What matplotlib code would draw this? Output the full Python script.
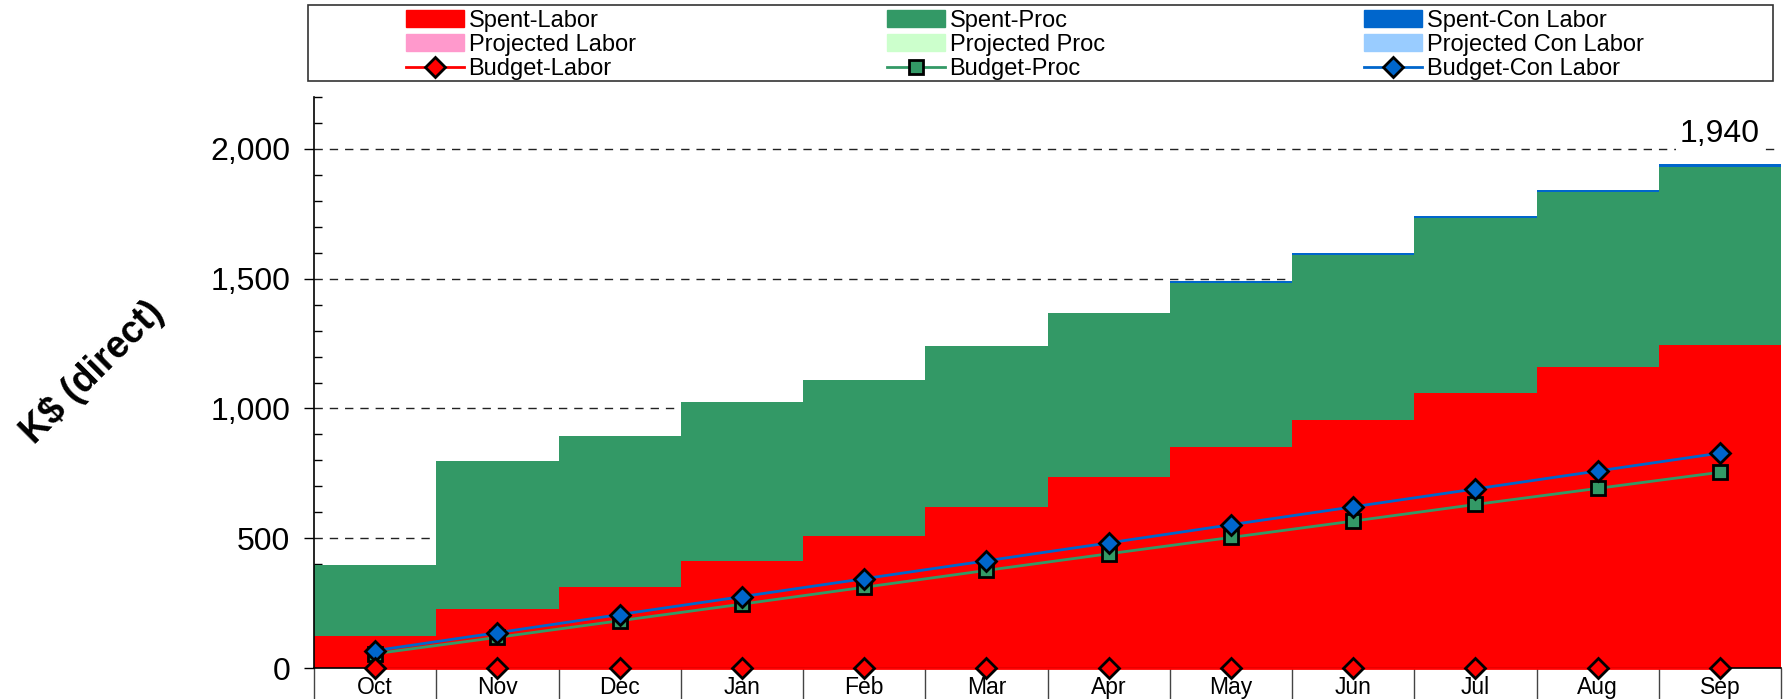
import numpy as np
import matplotlib
matplotlib.use('Agg')
import matplotlib.pyplot as plt
from matplotlib.patches import Patch, Rectangle
from matplotlib.lines import Line2D
from matplotlib.ticker import MultipleLocator, FuncFormatter

plt.rcParams['font.family'] = ['Liberation Sans', 'DejaVu Sans']

# ---------------- data ----------------
months = ['Oct', 'Nov', 'Dec', 'Jan', 'Feb', 'Mar', 'Apr', 'May', 'Jun', 'Jul', 'Aug', 'Sep']
spent_labor = [123, 227, 313, 412, 509, 622, 737, 850, 956, 1061, 1158, 1246]
spent_proc = [275, 571, 581, 614, 601, 620, 629, 633, 637, 672, 675, 686]
spent_con_labor = [0, 0, 0, 0, 0, 0, 0, 7, 7, 7, 7, 8]
projected_labor = []
projected_proc = []
projected_con_labor = []
budget_labor = [0, 0, 0, 0, 0, 0, 0, 0, 0, 0, 0, 0]
budget_proc = [55, 118, 182, 246, 311, 376, 440, 503, 566, 630, 692, 754]
budget_con_labor = [67, 136, 206, 275, 344, 413, 482, 552, 621, 690, 759, 828]

C_LAB, C_PROC, C_CON = '#FF0000', '#339966', '#0066CC'
C_PLAB, C_PPROC, C_PCON = '#FF99CC', '#CCFFCC', '#99CCFF'

fig = plt.figure(figsize=(17.84, 6.99), dpi=100)
W, H = 1784, 699
ax = fig.add_axes([314 / W, 1 - 668 / H, (1781 - 314) / W, (668 - 97) / H])

edges = np.arange(len(months) + 1)
centers = np.arange(len(months)) + 0.5
lab = np.array(spent_labor, float)
proc = np.array(spent_proc, float)
con = np.array(spent_con_labor, float)

ax.stairs(lab, edges, baseline=0, fill=True, color=C_LAB, zorder=2)
ax.stairs(lab + proc, edges, baseline=lab, fill=True, color=C_PROC, zorder=2)
ax.stairs(lab + proc + con, edges, baseline=lab + proc, fill=True, color=C_CON, zorder=2)

DMS, SMS = 10, 9.5
mk = dict(markeredgecolor='black', markeredgewidth=2, clip_on=False, zorder=6)
ax.plot(centers, budget_proc, color=C_PROC, lw=2, marker='s', ms=SMS, markerfacecolor=C_PROC, **mk)
ax.plot(centers, budget_con_labor, color=C_CON, lw=2, marker='D', ms=DMS, markerfacecolor=C_CON, **mk)
ax.plot(centers, budget_labor, color=C_LAB, lw=2, marker='D', ms=DMS, markerfacecolor=C_LAB, **mk)

total = lab[-1] + proc[-1] + con[-1]
ax.text(centers[-1], 2000, f'{total:,.0f}', ha='center', va='bottom', fontsize=23,
        bbox=dict(facecolor='white', edgecolor='none', pad=3), zorder=7)

ax.set_xlim(0, len(months))
ax.set_ylim(0, 2200)

ax.yaxis.set_major_locator(MultipleLocator(500))
ax.yaxis.set_minor_locator(MultipleLocator(100))
ax.yaxis.set_major_formatter(FuncFormatter(lambda v, p: f'{v:,.0f}' if v <= 2000 else ''))
ax.set_yticks([0, 500, 1000, 1500, 2000])
ax.tick_params(axis='y', which='major', direction='out', length=7, width=1, labelsize=23, pad=10)
ax.tick_params(axis='y', which='minor', direction='in', length=6, width=1)
ax.yaxis.grid(True, which='major', color='#222222', linestyle=(0, (6, 5)), lw=1)
ax.set_axisbelow(True)

ax.set_xticks(edges)
ax.set_xticklabels([''] * len(edges))
ax.set_xticks(centers, minor=True)
ax.set_xticklabels(months, minor=True)
ax.tick_params(axis='x', which='major', direction='out', length=23, width=1, color='#444444')
ax.tick_params(axis='x', which='minor', length=0, labelsize=16.5, pad=6)

for s in ['top', 'right']:
    ax.spines[s].set_visible(False)
ax.spines['left'].set_linewidth(1.2)
ax.spines['bottom'].set_linewidth(1.2)

fig.text(92 / W, 1 - 372 / H, 'K$ (direct)', rotation=45, ha='center', va='center',
         fontsize=27, fontweight='bold')

# legend frame
fig.patches.append(Rectangle((308 / W, 1 - 81 / H), (1773 - 308) / W, 76.5 / H,
                             transform=fig.transFigure, facecolor='white',
                             edgecolor='#333333', lw=1.2, zorder=0))

cols = [
    ([Patch(color=C_LAB), Patch(color=C_PLAB),
      Line2D([], [], color=C_LAB, lw=2, marker='D', ms=DMS, markerfacecolor=C_LAB, markeredgecolor='black', markeredgewidth=2)],
     ['Spent-Labor', 'Projected Labor', 'Budget-Labor'], 406),
    ([Patch(color=C_PROC), Patch(color=C_PPROC),
      Line2D([], [], color=C_PROC, lw=2, marker='s', ms=SMS, markerfacecolor=C_PROC, markeredgecolor='black', markeredgewidth=2)],
     ['Spent-Proc', 'Projected Proc', 'Budget-Proc'], 887),
    ([Patch(color=C_CON), Patch(color=C_PCON),
      Line2D([], [], color=C_CON, lw=2, marker='D', ms=DMS, markerfacecolor=C_CON, markeredgecolor='black', markeredgewidth=2)],
     ['Spent-Con Labor', 'Projected Con Labor', 'Budget-Con Labor'], 1364),
]
for handles, labels, x0 in cols:
    fig.legend(handles, labels, loc='upper left', bbox_to_anchor=(x0 / W, 1 - 10 / H),
               bbox_transform=fig.transFigure, frameon=False, fontsize=17,
               labelspacing=0.08, handlelength=2.45, handleheight=0.7,
               handletextpad=0.2, borderpad=0, borderaxespad=0, numpoints=1)

fig.savefig('out.png', dpi=100)
